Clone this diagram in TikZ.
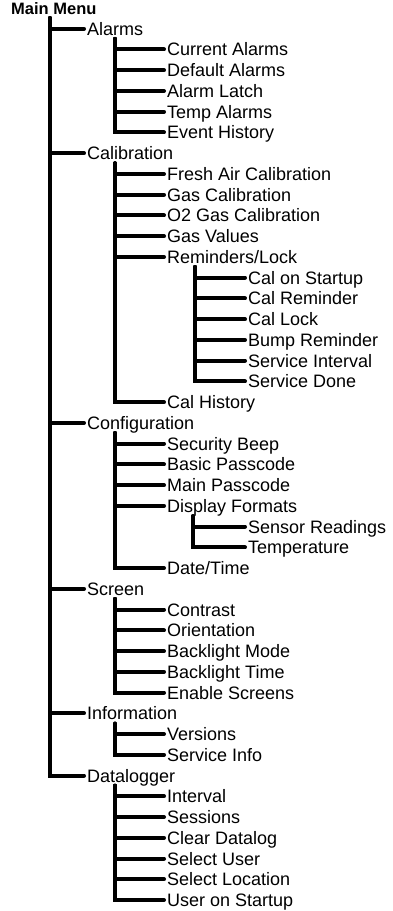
\documentclass[tikz,border=0pt]{standalone}
\usepackage{fontspec}
\setmainfont{Liberation Sans}

\tikzset{
    item/.style={anchor=west, inner sep=0pt, text height=13pt, text depth=0pt,
        font=\fontsize{18pt}{20pt}\selectfont},
    menu/.style={item, font=\fontsize{16.5pt}{20pt}\selectfont\bfseries},
    branch/.style={line width=4pt, line cap=round, shorten >=3pt}
}

\begin{document}
\begin{tikzpicture}[x=1pt, y=-20.744pt]
    \useasboundingbox (0,-0.386) rectangle (392,43.53);

    % root and first level
    \node [menu] (menu) at (11,0) {Main Menu};
    \node [item] (alarms)  at (87,1)  {Alarms};
    \node [item] (calib)   at (87,7)  {Calibration};
    \node [item] (config)  at (87,20) {Configuration};
    \node [item] (screen)  at (87,28) {Screen};
    \node [item] (info)    at (87,34) {Information};
    \node [item] (datalog) at (87,37) {Datalogger};

    % alarms
    \node [item] (curalarms)  at (167,2) {Current Alarms};
    \node [item] (defalarms)  at (167,3) {Default Alarms};
    \node [item] (latch)      at (167,4) {Alarm Latch};
    \node [item] (tempalarms) at (167,5) {Temp Alarms};
    \node [item] (events)     at (167,6) {Event History};

    % calibration
    \node [item] (freshair)   at (167,8)  {Fresh Air Calibration};
    \node [item] (gascal)     at (167,9)  {Gas Calibration};
    \node [item] (otwocal)    at (167,10) {O2 Gas Calibration};
    \node [item] (gasvalues)  at (167,11) {Gas Values};
    \node [item] (reminders)  at (167,12) {Reminders/Lock};
    \node [item] (calhistory) at (167,19) {Cal History};

    \node [item] (calstartup)  at (248,13) {Cal on Startup};
    \node [item] (calreminder) at (248,14) {Cal Reminder};
    \node [item] (callock)     at (248,15) {Cal Lock};
    \node [item] (bump)        at (248,16) {Bump Reminder};
    \node [item] (servint)     at (248,17) {Service Interval};
    \node [item] (servdone)    at (248,18) {Service Done};

    % configuration
    \node [item] (beep)      at (167,21) {Security Beep};
    \node [item] (basicpass) at (167,22) {Basic Passcode};
    \node [item] (mainpass)  at (167,23) {Main Passcode};
    \node [item] (formats)   at (167,24) {Display Formats};
    \node [item] (datetime)  at (167,27) {Date/Time};

    \node [item] (sensors)     at (248,25) {Sensor Readings};
    \node [item] (temperature) at (248,26) {Temperature};

    % screen
    \node [item] (contrast)    at (167,29) {Contrast};
    \node [item] (orientation) at (167,30) {Orientation};
    \node [item] (blmode)      at (167,31) {Backlight Mode};
    \node [item] (bltime)      at (167,32) {Backlight Time};
    \node [item] (enscreens)   at (167,33) {Enable Screens};

    % information
    \node [item] (versions)    at (167,35) {Versions};
    \node [item] (serviceinfo) at (167,36) {Service Info};

    % datalogger
    \node [item] (interval)    at (167,38) {Interval};
    \node [item] (sessions)    at (167,39) {Sessions};
    \node [item] (cleardl)     at (167,40) {Clear Datalog};
    \node [item] (seluser)     at (167,41) {Select User};
    \node [item] (selloc)      at (167,42) {Select Location};
    \node [item] (userstartup) at (167,43) {User on Startup};

    % tops of the bars
    \coordinate (menu bar)      at ([xshift=39pt,yshift=-3.5pt]menu.south west);
    \coordinate (alarms bar)    at ([xshift=28pt,yshift=-3.5pt]alarms.south west);
    \coordinate (calib bar)     at ([xshift=28pt,yshift=-3.5pt]calib.south west);
    \coordinate (reminders bar) at ([xshift=28pt,yshift=-3.5pt]reminders.south west);
    \coordinate (config bar)    at ([xshift=28pt,yshift=-3.5pt]config.south west);
    \coordinate (formats bar)   at ([xshift=26pt,yshift=-3.5pt]formats.south west);
    \coordinate (screen bar)    at ([xshift=28pt,yshift=-3.5pt]screen.south west);
    \coordinate (info bar)      at ([xshift=28pt,yshift=-3.5pt]info.south west);
    \coordinate (datalog bar)   at ([xshift=28pt,yshift=-3.5pt]datalog.south west);

    \draw [branch] (menu bar) |- (alarms.west);
    \draw [branch] (menu bar) |- (calib.west);
    \draw [branch] (menu bar) |- (config.west);
    \draw [branch] (menu bar) |- (screen.west);
    \draw [branch] (menu bar) |- (info.west);
    \draw [branch] (menu bar) |- (datalog.west);

    \draw [branch] (alarms bar) |- (curalarms.west);
    \draw [branch] (alarms bar) |- (defalarms.west);
    \draw [branch] (alarms bar) |- (latch.west);
    \draw [branch] (alarms bar) |- (tempalarms.west);
    \draw [branch] (alarms bar) |- (events.west);

    \draw [branch] (calib bar) |- (freshair.west);
    \draw [branch] (calib bar) |- (gascal.west);
    \draw [branch] (calib bar) |- (otwocal.west);
    \draw [branch] (calib bar) |- (gasvalues.west);
    \draw [branch] (calib bar) |- (reminders.west);
    \draw [branch] (calib bar) |- (calhistory.west);

    \draw [branch] (reminders bar) |- (calstartup.west);
    \draw [branch] (reminders bar) |- (calreminder.west);
    \draw [branch] (reminders bar) |- (callock.west);
    \draw [branch] (reminders bar) |- (bump.west);
    \draw [branch] (reminders bar) |- (servint.west);
    \draw [branch] (reminders bar) |- (servdone.west);

    \draw [branch] (config bar) |- (beep.west);
    \draw [branch] (config bar) |- (basicpass.west);
    \draw [branch] (config bar) |- (mainpass.west);
    \draw [branch] (config bar) |- (formats.west);
    \draw [branch] (config bar) |- (datetime.west);

    \draw [branch] (formats bar) |- (sensors.west);
    \draw [branch] (formats bar) |- (temperature.west);

    \draw [branch] (screen bar) |- (contrast.west);
    \draw [branch] (screen bar) |- (orientation.west);
    \draw [branch] (screen bar) |- (blmode.west);
    \draw [branch] (screen bar) |- (bltime.west);
    \draw [branch] (screen bar) |- (enscreens.west);

    \draw [branch] (info bar) |- (versions.west);
    \draw [branch] (info bar) |- (serviceinfo.west);

    \draw [branch] (datalog bar) |- (interval.west);
    \draw [branch] (datalog bar) |- (sessions.west);
    \draw [branch] (datalog bar) |- (cleardl.west);
    \draw [branch] (datalog bar) |- (seluser.west);
    \draw [branch] (datalog bar) |- (selloc.west);
    \draw [branch] (datalog bar) |- (userstartup.west);
\end{tikzpicture}
\end{document}
